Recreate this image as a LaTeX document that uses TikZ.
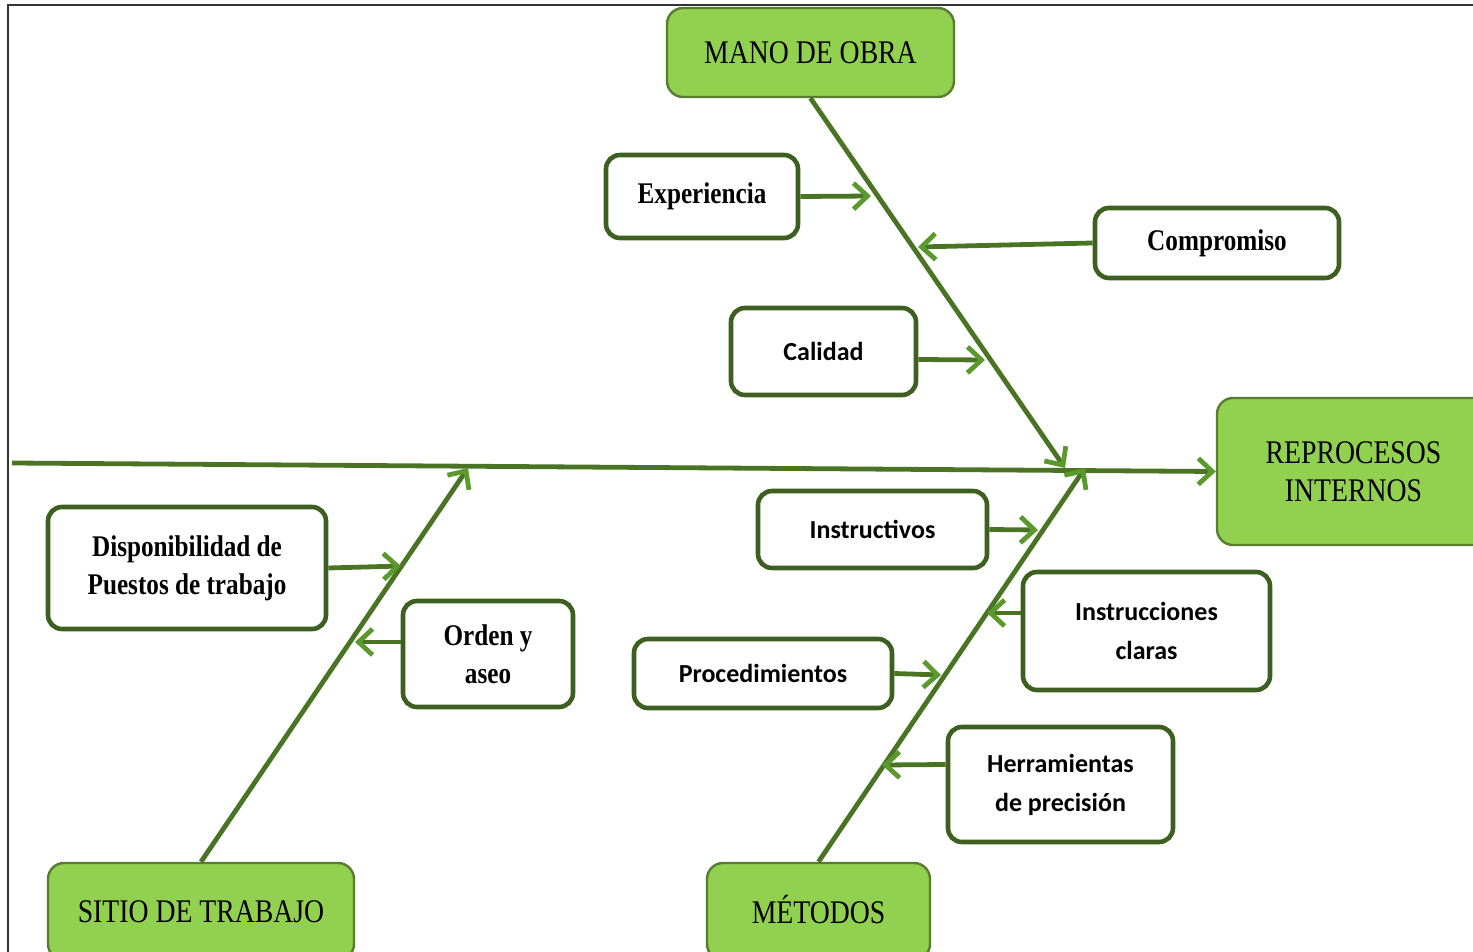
\documentclass[tikz,border=0pt]{standalone}
\usepackage{fontspec}
\setmainfont{Liberation Serif}
\newfontfamily\condserif[FakeStretch=0.84]{Liberation Serif}
\newfontfamily\calib{Carlito}
\usetikzlibrary{arrows.meta}
\definecolor{lgreen}{HTML}{92D050}
\definecolor{bonegreen}{HTML}{4A7424}
\definecolor{boxgreen}{HTML}{3D6020}
\definecolor{tipgreen}{HTML}{5A9A2C}
\tikzset{
  headbox/.style={draw=lgreen!60!black, line width=1.2pt, fill=lgreen, rounded corners=8pt,
    font=\condserif\fontsize{16.5}{19}\selectfont, align=center, inner sep=0pt},
  causebox/.style={draw=boxgreen, line width=2.3pt, fill=white, rounded corners=7pt,
    align=center, inner sep=0pt},
  serifl/.style={font=\condserif\bfseries\fontsize{15}{19}\selectfont},
  sansl/.style={font=\calib\bfseries\fontsize{13}{19.5}\selectfont},
  bone/.style={draw=bonegreen, line width=2.4pt, -{Straight Barb[length=7pt,width=13pt,line width=2.4pt,color=tipgreen]}},
  twig/.style={draw=bonegreen, line width=2.4pt, -{Straight Barb[length=7pt,width=13pt,line width=2.4pt,color=tipgreen]}},
}
\begin{document}
\begin{tikzpicture}[x=0.5pt,y=-0.5pt]
\useasboundingbox (0,0) rectangle (1473,952);
% frame
\draw[line width=1.2pt, black!80] (8,960) -- (8,5) -- (1480,5);

% head nodes
\node[headbox, minimum width=143.5pt, minimum height=44.5pt] (mano) at (810.5,52.5) {MANO DE OBRA};
\node[headbox, minimum width=136.5pt, minimum height=73.5pt] (repro) at (1353.5,471.5) {REPROCESOS\\INTERNOS};
\node[headbox, minimum width=153pt, minimum height=48.5pt] (sitio) at (201,911.5) {SITIO DE TRABAJO};
\node[headbox, minimum width=111.5pt, minimum height=48.5pt, text height=11.5pt, text depth=0pt] (met) at (818.5,911.5) {MÉTODOS};

% cause nodes
\node[causebox, serifl, minimum width=96pt, minimum height=41.5pt] (exp) at (702,196.5) {Experiencia};
\node[causebox, serifl, minimum width=122pt, minimum height=35pt] (comp) at (1217,243) {Compromiso};
\node[causebox, sansl, minimum width=92.5pt, minimum height=43.5pt] (cal) at (823.5,351.5) {Calidad};
\node[causebox, sansl, minimum width=114.5pt, minimum height=38.5pt] (instv) at (872.5,529.5) {Instructivos};
\node[causebox, sansl, minimum width=123.5pt, minimum height=59pt] (instc) at (1146.5,631) {Instrucciones\\claras};
\node[causebox, sansl, minimum width=129pt, minimum height=34.5pt] (proc) at (763,673.5) {Procedimientos};
\node[causebox, sansl, minimum width=112.5pt, minimum height=57.5pt] (herr) at (1060.5,784.5) {Herramientas\\de precisión};
\node[causebox, serifl, minimum width=139pt, minimum height=61pt] (disp) at (187,568) {Disponibilidad de\\Puestos de trabajo};
\node[causebox, serifl, minimum width=85pt, minimum height=53pt] (orden) at (488,654) {Orden y\\aseo};

% coordinates
\coordinate (s0) at (12,463);
\coordinate (j1) at (1065,468);
\coordinate (j2) at (1085,468);
\coordinate (j3) at (468,468);
\coordinate (e1) at (871,196);
\coordinate (c1) at (918,247);
\coordinate (q1) at (985,360);
\coordinate (i1) at (1038,530);
\coordinate (ic1) at (987,613);
\coordinate (p1) at (941,675);
\coordinate (h1) at (882,765);
\coordinate (d1) at (401,566);
\coordinate (o1) at (355,642);

% spine and bones
\draw[bone] (s0) -- (repro.west);
\draw[bone] (mano.south) -- (j1);
\draw[bone] (met.north) -- (j2);
\draw[bone] (sitio.north) -- (j3);

% twigs
\draw[twig] (exp.east) -- (e1);
\draw[twig] (comp.west) -- (c1);
\draw[twig] ([yshift=-4pt]cal.east) -- (q1);
\draw[twig] (instv.east) -- (i1);
\draw[twig] ([yshift=9pt]instc.west) -- (ic1);
\draw[twig] (proc.east) -- (p1);
\draw[twig] ([yshift=10pt]herr.west) -- (h1);
\draw[twig] (disp.east) -- (d1);
\draw[twig] ([yshift=6pt]orden.west) -- (o1);
\end{tikzpicture}
\end{document}
